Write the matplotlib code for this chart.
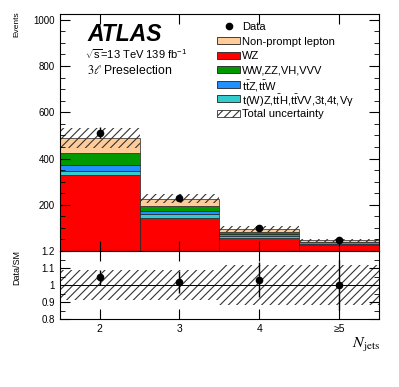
import matplotlib
matplotlib.use("Agg")
import matplotlib.pyplot as plt
import numpy as np
from matplotlib.ticker import MultipleLocator
from matplotlib.patches import Rectangle

plt.rcParams['font.family'] = ['Liberation Sans', 'DejaVu Sans']
plt.rcParams['hatch.linewidth'] = 0.8
plt.rcParams['mathtext.fontset'] = 'custom'
plt.rcParams['mathtext.rm'] = 'Liberation Sans'
plt.rcParams['mathtext.it'] = 'Liberation Sans:italic'
plt.rcParams['mathtext.bf'] = 'Liberation Sans:bold'

# bins and labels
bins = [2, 3, 4, 5]
bin_labels = ['2', '3', '4', '\u22655']

# stacked backgrounds (bottom to top)
wz = [330, 142, 58, 28]
other = [18, 16, 5, 3]          # t(W)Z, ttH, ttVV, 3t, 4t, Vgamma
ttv = [22, 16, 11, 7]           # ttZ, ttW
diboson = [55, 22, 9, 3]        # WW, ZZ, VH, VVV
nonprompt = [65, 30, 12, 5]     # non-prompt lepton

data = [512, 230, 98, 46]
rel_unc = [0.09, 0.09, 0.12, 0.12]

tb = r'$\bar{\mathrm{t}}$'
names = ['WZ', 't(W)Z,t' + tb + 'H,t' + tb + 'VV,3t,4t,V\u03b3', 't' + tb + 'Z,t' + tb + 'W',
         'WW,ZZ,VH,VVV', 'Non-prompt lepton']
colors = ['#ff0000', '#33cccc', '#1e90ff', '#009900', '#ffcc99']

comps = [wz, other, ttv, diboson, nonprompt]
total = np.sum(comps, axis=0)
data = np.array(data)
derr = np.sqrt(data)

fig = plt.figure(figsize=(3.99, 3.87), dpi=100)
ax = fig.add_axes([0.150, 0.3514, 0.7995, 0.6124])
rx = fig.add_axes([0.150, 0.1757, 0.7995, 0.1757], sharex=ax)

bottom = np.zeros(4)
for vals, c in zip(comps, colors):
    ax.bar(bins, vals, width=1.0, bottom=bottom, color=c, edgecolor='#222222', linewidth=0.5)
    bottom += np.array(vals)

unc = total * np.array(rel_unc)
ax.bar(bins, 2 * unc, width=1.0, bottom=total - unc, fill=False,
       edgecolor='#333333', hatch='////', linewidth=0)
ax.errorbar(bins, data, yerr=derr, fmt='o', color='black', ms=4.5, elinewidth=1, capsize=0)

ax.set_xlim(1.5, 5.5)
ax.set_ylim(0, 1025)
ax.yaxis.set_minor_locator(MultipleLocator(50))
ax.tick_params(which='both', direction='in', top=True, right=True, labelsize=7)
ax.tick_params(which='major', length=7)
ax.tick_params(which='minor', length=3.5)
ax.tick_params(axis='x', labelbottom=False)
ax.set_yticks([200, 400, 600, 800, 1000])
ax.set_xticks(bins)

# legend drawn by hand so that all rows are evenly spaced
leg_l = ['Data', names[4], names[0], names[3], names[2], names[1], 'Total uncertainty']
leg_c = [None, colors[4], colors[0], colors[3], colors[2], colors[1], 'hatch']
y0, dy = 0.948, 0.0612
for i, (lab, c) in enumerate(zip(leg_l, leg_c)):
    y = y0 - i * dy
    if c is None:
        ax.plot([0.529], [y], 'o', color='black', ms=4.5, transform=ax.transAxes, clip_on=False)
    elif c == 'hatch':
        ax.add_patch(Rectangle((0.492, y - 0.0148), 0.072, 0.0296, transform=ax.transAxes,
                               fill=False, edgecolor='#333333', hatch='////', linewidth=0.6))
    else:
        ax.add_patch(Rectangle((0.492, y - 0.0148), 0.072, 0.0296, transform=ax.transAxes,
                               facecolor=c, edgecolor='#222222', linewidth=0.6))
    ax.text(0.571, y, lab, transform=ax.transAxes, fontsize=8, va='center_baseline')

ax.text(0.088, 0.913, 'ATLAS', transform=ax.transAxes, fontsize=16.5,
        fontweight='bold', fontstyle='italic', va='center')
ax.text(0.078, 0.831, r'$\sqrt{\mathrm{s}}$=13 TeV 139 fb$^{-1}$', transform=ax.transAxes,
        fontsize=8, va='center')
ax.text(0.085, 0.76, r'$3\ell$ Preselection', transform=ax.transAxes,
        fontsize=8.8, va='center', math_fontfamily='stix')

# ratio panel
ratio = data / total
rerr = derr / total
rx.bar(bins, 2 * np.array(rel_unc), width=1.0, bottom=1 - np.array(rel_unc), fill=False,
       edgecolor='#333333', hatch='////', linewidth=0)
rx.axhline(1.0, color='black', lw=0.7)
rx.errorbar(bins, ratio, yerr=rerr, fmt='o', color='black', ms=4.5, elinewidth=1, capsize=0)
rx.set_ylim(0.8, 1.2)
rx.set_yticks([0.8, 0.9, 1.0, 1.1, 1.2])
rx.set_yticklabels(['0.8', '0.9', '1', '1.1', '1.2'])
rx.yaxis.set_minor_locator(MultipleLocator(0.05))
rx.set_xticks(bins)
rx.set_xticklabels(bin_labels)
rx.tick_params(which='both', direction='in', top=True, right=True, labelsize=7.5)
rx.tick_params(axis='y', labelsize=7)
rx.tick_params(which='major', length=7)
rx.tick_params(which='minor', length=3.5)
rx.tick_params(axis='x', which='minor', bottom=False, top=False)

fig.text(0.042, 0.970, 'Events', rotation=90, ha='center', va='top', fontsize=6)
fig.text(0.042, 0.354, 'Data/SM', rotation=90, ha='center', va='top', fontsize=6.5)
fig.text(0.953, 0.108, r'$N_{\mathrm{jets}}$', ha='right', va='center', fontsize=11.5,
         math_fontfamily='stix')

fig.savefig('out.png', dpi=100)
